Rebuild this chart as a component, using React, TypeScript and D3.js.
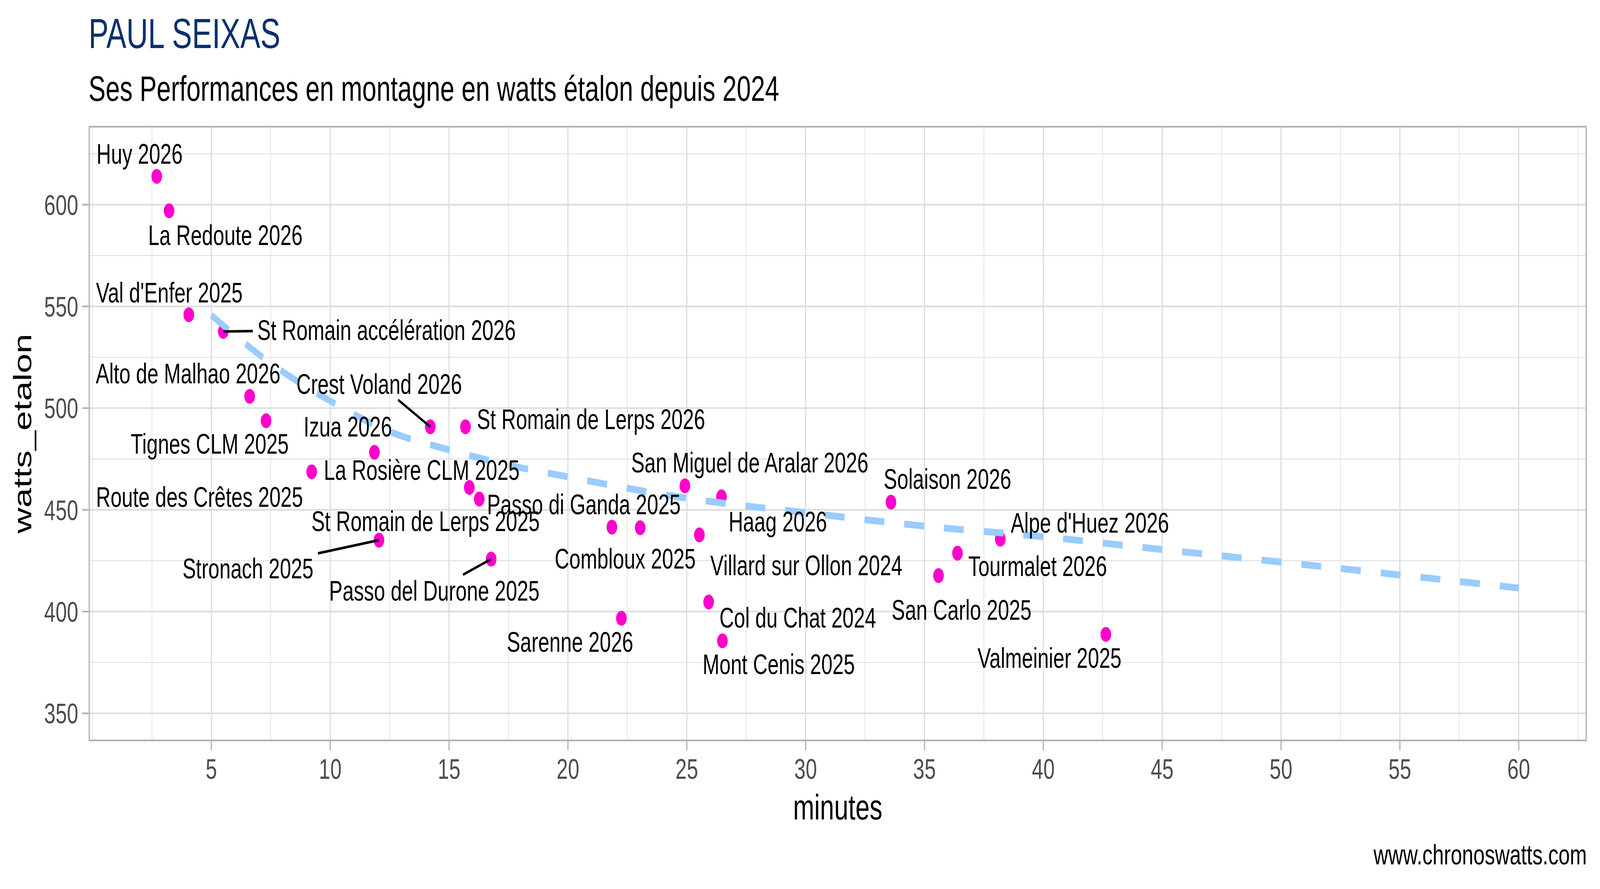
import { useEffect, useRef } from "react";
import * as d3 from "d3";

// climbs and their values (minutes, watts étalon)
const climbs = [
  "Huy 2026", "La Redoute 2026", "Val d'Enfer 2025", "St Romain accélération 2026",
  "Alto de Malhao 2026", "Tignes CLM 2025", "La Rosière CLM 2025", "Izua 2026",
  "Crest Voland 2026", "St Romain de Lerps 2026", "St Romain de Lerps 2025", "Passo di Ganda 2025",
  "Stronach 2025", "Passo del Durone 2025", "Combloux 2025", "Route des Crêtes 2025",
  "Sarenne 2026", "San Miguel de Aralar 2026", "Haag 2026", "Villard sur Ollon 2024",
  "Col du Chat 2024", "Mont Cenis 2025", "Solaison 2026", "San Carlo 2025",
  "Tourmalet 2026", "Alpe d'Huez 2026", "Valmeinier 2025",
];
const minutes = [
  2.70, 3.22, 4.05, 5.50,
  6.61, 7.30, 9.22, 11.86,
  14.21, 15.69, 15.85, 16.27,
  12.05, 16.77, 21.85, 23.04,
  22.25, 24.92, 26.46, 25.53,
  25.92, 26.50, 33.59, 35.59,
  36.39, 38.19, 42.63,
];
const watts = [
  613.9, 597.0, 545.9, 537.7,
  505.8, 493.8, 468.7, 478.3,
  490.8, 490.8, 461.0, 455.3,
  435.1, 425.8, 441.5, 441.2,
  396.7, 461.8, 456.4, 437.7,
  404.7, 385.6, 453.8, 417.7,
  428.7, 435.6, 388.8,
];

// where the repelled labels ended up (label centre, in data units)
const labelMinutes = [
  1.98, 5.59, 3.23, 12.37,
  4.02, 4.93, 13.85, 10.74,
  12.06, 20.97, 14.01, 20.67,
  6.54, 14.38, 22.41, 4.50,
  20.09, 27.65, 28.83, 30.03,
  29.67, 28.87, 35.97, 36.56,
  39.76, 41.96, 40.26,
];
const labelWatts = [
  625.0, 585.2, 556.9, 538.5,
  517.1, 482.5, 469.7, 490.9,
  511.9, 494.7, 444.6, 452.7,
  421.2, 410.3, 426.1, 456.4,
  385.2, 473.4, 444.3, 422.8,
  397.0, 374.3, 465.2, 400.9,
  422.4, 443.8, 377.2,
];
const withLeader = ["St Romain accélération 2026", "Crest Voland 2026", "Stronach 2025", "Passo del Durone 2025"];

// trend curve
const trendMinutes = [5, 7.5, 10, 12.5, 15, 17.5, 20, 25, 30, 35, 40, 45, 50, 55, 60];
const trendWatts = [545.6, 522, 503.5, 488.5, 479.5, 472, 466.2, 455.7, 448.6, 442, 436.8, 430.5, 424.3, 418, 411.6];

const xTicks = [5, 10, 15, 20, 25, 30, 35, 40, 45, 50, 55, 60];
const yTicks = [350, 400, 450, 500, 550, 600];
const yLimits = [350, 625];

export default function App() {
  const ref = useRef<SVGSVGElement>(null);

  useEffect(() => {
    if (!ref.current) return;
    document.body.style.margin = "0";
    document.body.style.overflow = "hidden";
    const svg = d3.select(ref.current);
    svg.selectAll("*").remove();

    const width = 5706;
    const height = 2275;
    const left = 316, right = 5659, top = 322, bottom = 1897;
    const font = "'Liberation Sans', Arial, Helvetica, sans-serif";

    const xMin = d3.min(minutes) as number;
    const xMax = d3.max(trendMinutes) as number;
    const xPad = (xMax - xMin) * 0.05;
    const yPad = (yLimits[1] - yLimits[0]) * 0.05;

    const x = d3.scaleLinear().domain([xMin - xPad, xMax + xPad]).range([left, right]);
    const y = d3.scaleLinear().domain([yLimits[0] - yPad, yLimits[1] + yPad]).range([bottom, top]);

    const xMinor = d3.range(0, 65, 2.5).filter(v => v >= x.domain()[0] && v <= x.domain()[1] && !xTicks.includes(v));
    const yMinor = d3.range(325, 675, 25).filter(v => v >= y.domain()[0] && v <= y.domain()[1] && !yTicks.includes(v));

    // stretch to the window so the picture keeps the 5706x2275 layout
    svg.attr("viewBox", [0, 0, width, height])
      .attr("preserveAspectRatio", "none")
      .style("width", "100vw")
      .style("height", "100vh")
      .style("display", "block")
      .style("font-family", font);

    svg.append("rect").attr("width", width).attr("height", height).attr("fill", "white");

    // grid
    const grid = svg.append("g");
    grid.selectAll(".xmin").data(xMinor).join("line")
      .attr("x1", d => x(d)).attr("x2", d => x(d)).attr("y1", top).attr("y2", bottom)
      .attr("stroke", "#dedede").attr("stroke-width", 2.2);
    grid.selectAll(".ymin").data(yMinor).join("line")
      .attr("x1", left).attr("x2", right).attr("y1", d => y(d)).attr("y2", d => y(d))
      .attr("stroke", "#dedede").attr("stroke-width", 2.2);
    grid.selectAll(".xmaj").data(xTicks).join("line")
      .attr("x1", d => x(d)).attr("x2", d => x(d)).attr("y1", top).attr("y2", bottom)
      .attr("stroke", "#dedede").attr("stroke-width", 4.4);
    grid.selectAll(".ymaj").data(yTicks).join("line")
      .attr("x1", left).attr("x2", right).attr("y1", d => y(d)).attr("y2", d => y(d))
      .attr("stroke", "#dedede").attr("stroke-width", 4.4);

    // points
    const idx = d3.range(climbs.length);
    svg.append("g").selectAll("circle").data(idx).join("circle")
      .attr("cx", i => x(minutes[i]))
      .attr("cy", i => y(watts[i]))
      .attr("r", 19)
      .attr("fill", "#FF00CC");

    // trend
    const line = d3.line<number>()
      .x(i => x(trendMinutes[i]))
      .y(i => y(trendWatts[i]))
      .curve(d3.curveMonotoneX);
    svg.append("path")
      .datum(d3.range(trendMinutes.length))
      .attr("d", line)
      .attr("fill", "none")
      .attr("stroke", "#99CCFF")
      .attr("stroke-width", 17.5)
      .attr("stroke-dasharray", "71,71")
      .attr("stroke-linecap", "butt");

    // labels
    const labelSize = 71.8;
    const cap = labelSize * 0.716;
    const labels = svg.append("g").selectAll("text").data(idx).join("text")
      .attr("x", i => x(labelMinutes[i]))
      .attr("y", i => y(labelWatts[i]) + cap / 2)
      .attr("text-anchor", "middle")
      .attr("font-size", labelSize)
      .attr("fill", "black")
      .text(i => climbs[i]);

    // leader segments
    const seg = svg.append("g");
    labels.each(function (i) {
      if (!withLeader.includes(climbs[i])) return;
      const w = (this as SVGTextElement).getComputedTextLength();
      const cx = x(labelMinutes[i]), cy = y(labelWatts[i]);
      const px = x(minutes[i]), py = y(watts[i]);
      const hw = w / 2 + 16, hh = cap / 2 + 15;
      const dx = px - cx, dy = py - cy;
      const t = Math.min(Math.abs(hw / (dx || 1e-9)), Math.abs(hh / (dy || 1e-9)));
      seg.append("line")
        .attr("x1", px).attr("y1", py)
        .attr("x2", cx + dx * t).attr("y2", cy + dy * t)
        .attr("stroke", "black")
        .attr("stroke-width", 6.5);
    });

    // panel border (inner half visible)
    svg.append("rect")
      .attr("x", left + 2.2).attr("y", top + 2.2)
      .attr("width", right - left - 4.4).attr("height", bottom - top - 4.4)
      .attr("fill", "none").attr("stroke", "#b3b3b3").attr("stroke-width", 4.4);

    // axes
    const axisSize = 72.8;
    const ax = svg.append("g");
    ax.selectAll(".xt").data(xTicks).join("line")
      .attr("x1", d => x(d)).attr("x2", d => x(d)).attr("y1", bottom).attr("y2", bottom + 23)
      .attr("stroke", "#b3b3b3").attr("stroke-width", 4.4);
    ax.selectAll(".xl").data(xTicks).join("text")
      .attr("x", d => x(d)).attr("y", 1993)
      .attr("text-anchor", "middle").attr("font-size", axisSize).attr("fill", "#4d4d4d")
      .text(d => d);
    ax.selectAll(".yt").data(yTicks).join("line")
      .attr("x1", left - 23).attr("x2", left).attr("y1", d => y(d)).attr("y2", d => y(d))
      .attr("stroke", "#b3b3b3").attr("stroke-width", 4.4);
    ax.selectAll(".yl").data(yTicks).join("text")
      .attr("x", 279).attr("y", d => y(d) + axisSize * 0.358)
      .attr("text-anchor", "end").attr("font-size", axisSize).attr("fill", "#4d4d4d")
      .text(d => d);

    svg.append("text")
      .attr("x", (left + right) / 2).attr("y", 2097)
      .attr("text-anchor", "middle").attr("font-size", 91).attr("fill", "black")
      .text("minutes");
    svg.append("text")
      .attr("transform", `translate(112,${(top + bottom) / 2}) rotate(-90)`)
      .attr("text-anchor", "middle").attr("font-size", 91).attr("fill", "black")
      .text("watts_etalon");

    // titles
    svg.append("text")
      .attr("x", left).attr("y", 123.5)
      .attr("font-size", 107).attr("fill", "#08306B")
      .text("PAUL SEIXAS");
    svg.append("text")
      .attr("x", left).attr("y", 258)
      .attr("font-size", 91).attr("fill", "black")
      .text("Ses Performances en montagne en watts étalon depuis 2024");
    svg.append("text")
      .attr("x", right).attr("y", 2212)
      .attr("text-anchor", "end").attr("font-size", 72.8).attr("fill", "black")
      .text("www.chronoswatts.com");
  }, []);

  return <svg ref={ref}></svg>;
}
